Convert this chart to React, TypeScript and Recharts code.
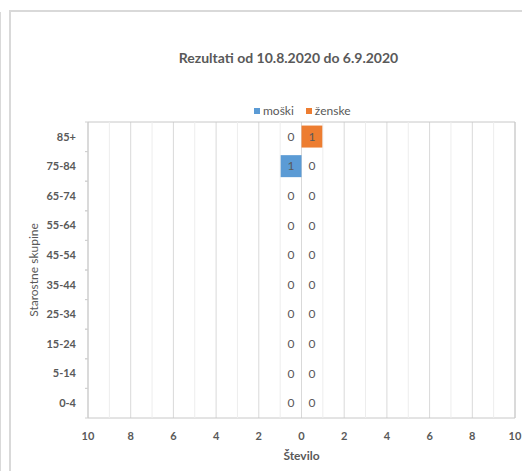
import { BarChart, Bar, XAxis, YAxis, CartesianGrid, ReferenceLine, ReferenceArea, LabelList } from 'recharts';

const categories = ['0-4', '5-14', '15-24', '25-34', '35-44', '45-54', '55-64', '65-74', '75-84', '85+'];
const moski = [0, 0, 0, 0, 0, 0, 0, 0, 1, 0];
const zenske = [0, 0, 0, 0, 0, 0, 0, 0, 0, 1];
const xTicks = [-10, -8, -6, -4, -2, 0, 2, 4, 6, 8, 10];
const minorTicks = [-9, -7, -5, -3, -1, 1, 3, 5, 7, 9];

const data = categories.map((skupina, i) => ({
  skupina,
  moski: -moski[i],
  zenske: zenske[i],
}));

const TEXT = '#595959';
const FONT = 'Lato, "Noto Sans", sans-serif';
const BLUE = '#5B9BD5';
const ORANGE = '#ED7D31';
const HALF_UNIT = 10.5;
const HALF_ROW = 14.8;

const YTick = (props: any) => {
  const { x, y, payload } = props;
  return (
    <g>
      <text x={x} y={y} dy="0.35em" textAnchor="end" fill={TEXT} fontSize={11} fontWeight="bold" fontFamily={FONT}>
        {payload.value}
      </text>
      <line x1={x + 9} x2={x + 12} y1={y - HALF_ROW} y2={y - HALF_ROW} stroke="#d0d0d0" />
      <line x1={x + 9} x2={x + 12} y1={y + HALF_ROW} y2={y + HALF_ROW} stroke="#d0d0d0" />
    </g>
  );
};

const barLabel = (side: 'left' | 'right') => (props: any) => {
  const { x, y, width, height, value } = props;
  const left = Math.min(x, x + width);
  const right = Math.max(x, x + width);
  const cx = side === 'left' ? right - HALF_UNIT : left + HALF_UNIT;
  const v = Array.isArray(value) ? value[1] - value[0] : value;
  return (
    <text x={cx} y={y + height / 2} dy="0.35em" textAnchor="middle" fill={TEXT} fontSize={12} fontFamily={FONT}>
      {Math.abs(Number(v) || 0)}
    </text>
  );
};

export default function App() {
  return (
    <div style={{ position: 'relative', width: 522, height: 471, background: '#fff', fontFamily: FONT }}>
      <style>{'body{margin:0}'}</style>
      <div style={{ position: 'absolute', left: 0, top: 12, bottom: 0, borderLeft: '1px solid #d9d9d9' }} />
      <div style={{ position: 'absolute', left: 9, top: 10, right: 0, bottom: 0, borderLeft: '2px solid #d9d9d9', borderTop: '2px solid #d9d9d9' }} />
      <div style={{ position: 'absolute', left: 0, width: 577, top: 49, textAlign: 'center', color: TEXT, fontSize: 14, fontWeight: 'bold' }}>
        Rezultati od 10.8.2020 do 6.9.2020
      </div>
      <div style={{ position: 'absolute', left: 254, top: 103, display: 'flex', alignItems: 'center', color: TEXT, fontSize: 12 }}>
        <span style={{ width: 6, height: 6, background: BLUE, marginRight: 3 }} />
        <span>moški</span>
        <span style={{ width: 6, height: 6, background: ORANGE, marginLeft: 12, marginRight: 3 }} />
        <span>ženske</span>
      </div>
      <div style={{ position: 'absolute', left: 0, top: 0 }}>
        <BarChart
          width={522}
          height={471}
          data={data}
          layout="vertical"
          stackOffset="sign"
          barCategoryGap="12%"
          margin={{ top: 122, right: 7, bottom: 13, left: 10 }}
        >
          <CartesianGrid horizontal={false} stroke="#d9d9d9" />
          {minorTicks.map((v) => (
            <ReferenceLine key={v} x={v} stroke="#ededed" />
          ))}
          <ReferenceArea x1={-10} x2={10} fill="none" stroke="#c8c8c8" strokeOpacity={1} ifOverflow="visible" />
          <XAxis
            type="number"
            domain={[-10, 10]}
            ticks={xTicks}
            tickFormatter={(v: number) => String(Math.abs(v))}
            axisLine={false}
            tickLine={false}
            tickSize={0}
            tickMargin={14}
            height={40}
            tick={{ fill: TEXT, fontSize: 11, fontWeight: 'bold', fontFamily: FONT }}
            label={{ value: 'Število', position: 'insideBottom', offset: -2, fill: TEXT, fontSize: 12, fontWeight: 'bold', fontFamily: FONT }}
          />
          <YAxis
            type="category"
            dataKey="skupina"
            reversed
            width={78}
            axisLine={false}
            tickLine={false}
            tickSize={0}
            tickMargin={12}
            tick={<YTick />}
            interval={0}
            label={{ value: 'Starostne skupine', angle: -90, position: 'insideLeft', offset: 24, fill: TEXT, fontSize: 12, fontFamily: FONT, style: { textAnchor: 'middle' } }}
          />
          <Bar dataKey="moski" stackId="a" fill={BLUE} minPointSize={0.001} isAnimationActive={false}>
            <LabelList dataKey="moski" content={barLabel('left')} />
          </Bar>
          <Bar dataKey="zenske" stackId="a" fill={ORANGE} minPointSize={0.001} isAnimationActive={false}>
            <LabelList dataKey="zenske" content={barLabel('right')} />
          </Bar>
        </BarChart>
      </div>
    </div>
  );
}
